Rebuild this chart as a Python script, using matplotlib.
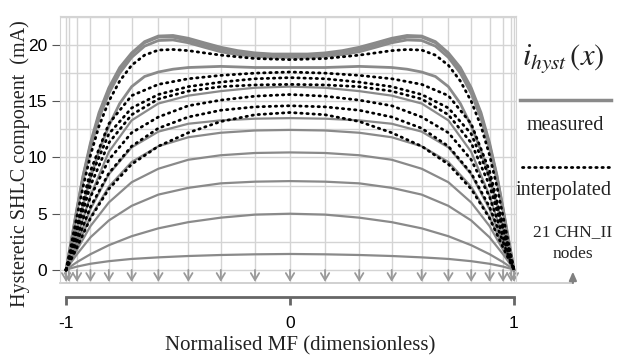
import numpy as np
import matplotlib
matplotlib.use('Agg')
import matplotlib.pyplot as plt

# 21 CHN_II nodes, x = -cos(k*pi/20)
nodes = [-1.0, -0.9877, -0.9511, -0.8910, -0.8090, -0.7071, -0.5878, -0.4540, -0.3090, -0.1564, 0.0,
         0.1564, 0.3090, 0.4540, 0.5878, 0.7071, 0.8090, 0.8910, 0.9511, 0.9877, 1.0]
# finer reading positions for the humped top curves, x = -cos(k*pi/40)
fine = [-1.0, -0.9969, -0.9877, -0.9724, -0.9511, -0.9239, -0.8910, -0.8526, -0.8090, -0.7604,
        -0.7071, -0.6494, -0.5878, -0.5225, -0.4540, -0.3827, -0.3090, -0.2334, -0.1564, -0.0785, 0.0,
        0.0785, 0.1564, 0.2334, 0.3090, 0.3827, 0.4540, 0.5225, 0.5878, 0.6494, 0.7071,
        0.7604, 0.8090, 0.8526, 0.8910, 0.9239, 0.9511, 0.9724, 0.9877, 0.9969, 1.0]

# measured curves read on the fine positions (top group)
measured_top = [
    [0, 0.35, 1.4, 3.1, 5.5, 8.4, 11.3, 14.0, 16.2, 18.0, 19.3, 20.3, 20.8, 20.85, 20.6, 20.2, 19.8, 19.5, 19.3, 19.2, 19.2,
     19.2, 19.3, 19.5, 19.8, 20.2, 20.6, 20.85, 20.8, 20.3, 19.3, 18.0, 16.2, 14.0, 11.3, 8.4, 5.5, 3.1, 1.4, 0.35, 0],
    [0, 0.34, 1.35, 3.0, 5.4, 8.3, 11.1, 13.8, 16.0, 17.8, 19.2, 20.2, 20.7, 20.7, 20.4, 20.0, 19.6, 19.35, 19.15, 19.05, 19.05,
     19.05, 19.15, 19.35, 19.6, 20.0, 20.4, 20.7, 20.7, 20.2, 19.2, 17.8, 16.0, 13.8, 11.1, 8.3, 5.4, 3.0, 1.35, 0.34, 0],
    [0, 0.33, 1.3, 2.9, 5.2, 8.0, 10.8, 13.5, 15.7, 17.5, 18.9, 19.9, 20.4, 20.45, 20.2, 19.8, 19.4, 19.15, 19.0, 18.9, 18.9,
     18.9, 19.0, 19.15, 19.4, 19.8, 20.2, 20.45, 20.4, 19.9, 18.9, 17.5, 15.7, 13.5, 10.8, 8.0, 5.2, 2.9, 1.3, 0.33, 0],
    [0, 0.22, 0.9, 2.1, 3.7, 5.8, 8.2, 10.6, 12.8, 14.8, 16.3, 17.2, 17.6, 17.85, 18.0, 18.05, 18.1, 18.05, 18.0, 18.0, 18.0,
     18.0, 18.0, 18.05, 18.1, 18.05, 18.0, 17.85, 17.6, 17.2, 16.3, 14.8, 12.8, 10.6, 8.2, 5.8, 3.7, 2.1, 0.9, 0.22, 0],
]

# measured curves read at the nodes
measured = [
    [0, 0.7, 2.9, 6.6, 10.5, 13.3, 14.8, 15.5, 15.9, 16.2, 16.3, 16.2, 15.9, 15.5, 14.8, 13.3, 10.5, 6.6, 2.9, 0.7, 0],
    [0, 0.6, 2.4, 5.4, 8.5, 10.9, 12.3, 13.0, 13.3, 13.45, 13.5, 13.45, 13.3, 13.0, 12.3, 10.9, 8.5, 5.4, 2.4, 0.6, 0],
    [0, 0.55, 2.1, 4.7, 7.4, 9.6, 11.0, 11.8, 12.2, 12.4, 12.45, 12.4, 12.2, 11.8, 11.0, 9.6, 7.4, 4.7, 2.1, 0.55, 0],
    [0, 0.5, 1.8, 3.9, 6.0, 7.8, 9.0, 9.8, 10.2, 10.4, 10.45, 10.4, 10.2, 9.8, 9.0, 7.8, 6.0, 3.9, 1.8, 0.5, 0],
    [0, 0.4, 1.4, 2.9, 4.4, 5.7, 6.7, 7.3, 7.7, 7.85, 7.9, 7.85, 7.7, 7.3, 6.7, 5.7, 4.4, 2.9, 1.4, 0.4, 0],
    [0, 0.2, 0.7, 1.4, 2.2, 3.0, 3.7, 4.25, 4.65, 4.92, 5.0, 4.92, 4.65, 4.25, 3.7, 3.0, 2.2, 1.4, 0.7, 0.2, 0],
    [0, 0.1, 0.3, 0.55, 0.78, 0.98, 1.12, 1.24, 1.33, 1.39, 1.42, 1.39, 1.33, 1.24, 1.12, 0.98, 0.78, 0.55, 0.3, 0.1, 0],
]

# interpolated top curve on the fine positions
interpolated_top = [
    [0, 0.3, 1.2, 2.7, 4.8, 7.4, 10.2, 12.8, 15.0, 16.8, 18.2, 19.1, 19.55, 19.6, 19.5, 19.3, 19.1, 18.95, 18.8, 18.75, 18.7,
     18.75, 18.8, 18.95, 19.1, 19.3, 19.5, 19.6, 19.55, 19.1, 18.2, 16.8, 15.0, 12.8, 10.2, 7.4, 4.8, 2.7, 1.2, 0.3, 0],
]

# interpolated curves at the nodes
interpolated = [
    [0, 1.0, 4.0, 8.8, 13.0, 15.5, 16.5, 17.0, 17.3, 17.5, 17.6, 17.5, 17.3, 17.0, 16.5, 15.5, 13.0, 8.8, 4.0, 1.0, 0],
    [0, 0.9, 3.7, 8.2, 12.1, 14.4, 15.6, 16.3, 16.7, 17.0, 17.1, 17.0, 16.7, 16.3, 15.6, 14.4, 12.1, 8.2, 3.7, 0.9, 0],
    [0, 0.85, 3.4, 7.5, 11.3, 13.8, 15.2, 15.9, 16.3, 16.45, 16.5, 16.45, 16.3, 15.9, 15.2, 13.8, 11.3, 7.5, 3.4, 0.85, 0],
    [0, 0.7, 2.9, 6.5, 9.8, 12.2, 13.6, 14.6, 15.1, 15.45, 15.6, 15.45, 15.1, 14.6, 13.6, 12.2, 9.8, 6.5, 2.9, 0.7, 0],
    [0, 0.6, 2.5, 5.6, 8.6, 11.0, 12.6, 13.6, 14.2, 14.5, 14.6, 14.5, 14.2, 13.6, 12.6, 11.0, 8.6, 5.6, 2.5, 0.6, 0],
    [0, 0.5, 2.0, 4.6, 7.2, 9.4, 11.0, 12.2, 13.2, 13.8, 14.0, 13.8, 13.2, 12.2, 11.0, 9.4, 7.2, 4.6, 2.0, 0.5, 0],
]

yticks = [0, 5, 10, 15, 20]
xticks = [-1, 0, 1]

grey = '#8a8a8a'
gridc = '#d4d4d4'
serif = 'Liberation Serif'
sans = 'Liberation Sans'
dots = (0, (0.5, 1.7))
plt.rcParams['mathtext.fontset'] = 'stix'

fig = plt.figure(figsize=(6.22, 3.58), dpi=100)
ax = fig.add_axes([60/622, 1-283/358, 456/622, 267/358])
ax.set_xlim(-1.027, 1.009)
ax.set_ylim(-1.16, 22.58)

# grid
for xn in nodes:
    ax.axvline(xn, color=gridc, lw=1, zorder=0)
for yg in np.arange(0, 22.6, 2.5):
    ax.axhline(yg, color=gridc, lw=1, zorder=0)
for s in ['top', 'right', 'left']:
    ax.spines[s].set_color(gridc)
ax.spines['bottom'].set_visible(False)

for m in measured_top:
    ax.plot(fine, m, color=grey, lw=2.0, zorder=2)
for m in measured:
    ax.plot(nodes, m, color=grey, lw=1.6, zorder=2)
for d in interpolated_top:
    ax.plot(fine, d, color='black', lw=2.0, linestyle=dots, dash_capstyle='round', zorder=3)
for d in interpolated:
    ax.plot(nodes, d, color='black', lw=2.0, linestyle=dots, dash_capstyle='round', zorder=3)

# node arrows
for xn in nodes:
    ax.annotate('', xy=(xn, -1.05), xytext=(xn, 0), zorder=1,
                arrowprops=dict(arrowstyle='->,head_width=0.3,head_length=0.5',
                                color='#999999', lw=1.3, shrinkA=0, shrinkB=0))
ax.plot([-1.027, 1.263], [-1.16, -1.16], color='#c8c8c8', lw=1.2, clip_on=False)
ax.annotate('', xy=(1.263, -0.15), xytext=(1.263, -1.16), annotation_clip=False,
            arrowprops=dict(arrowstyle='-|>,head_width=0.22,head_length=0.5',
                            color='#808080', lw=1.5, shrinkA=0, shrinkB=0))

ax.set_xticks([])
ax.set_yticks(yticks)
ax.tick_params(axis='y', length=6, color='#555555', labelsize=12.5, pad=3)
for lab in ax.get_yticklabels():
    lab.set_fontfamily(sans)
fig.text(20/622, 1-164/358, 'Hysteretic SHLC component  (mA)', fontfamily=serif, fontsize=14.5,
         rotation=90, ha='center', va='center', color='#222222')

# separate x axis
ax2 = fig.add_axes([60/622, 1-297/358, 456/622, 0.001])
ax2.set_xlim(-1.027, 1.009)
ax2.patch.set_visible(False)
for s in ['top', 'right', 'left']:
    ax2.spines[s].set_visible(False)
ax2.spines['bottom'].set_bounds(-1, 1)
ax2.spines['bottom'].set_color('#666666')
ax2.spines['bottom'].set_linewidth(2)
ax2.set_yticks([])
ax2.set_xticks(xticks)
ax2.set_xticklabels(['-1', '0', '1'], fontfamily=sans, fontsize=12.5)
ax2.tick_params(axis='x', length=6, width=2, color='#666666', pad=8)
fig.text(300/622, 1-346/358, 'Normalised MF (dimensionless)', fontfamily=serif, fontsize=15,
         ha='center', va='center', color='#222222')

# legend area
fig.text(563/622, 1-58/358, r'$i_{hyst}\,(x)$', fontsize=22, ha='center', va='center', color='#222222')
fig.add_artist(plt.Line2D([520/622, 611/622], [1-100/358, 1-100/358], color=grey, lw=2.5))
fig.text(565/622, 1-125/358, 'measured', fontfamily=serif, fontsize=14.5, ha='center', va='center', color='#222222')
fig.add_artist(plt.Line2D([522/622, 611/622], [1-167/358, 1-167/358], color='black', lw=2.0,
                          linestyle=dots, dash_capstyle='round'))
fig.text(564/622, 1-190/358, 'interpolated', fontfamily=serif, fontsize=14.5, ha='center', va='center', color='#222222')
fig.text(573/622, 1-232/358, '21 CHN_II', fontfamily=serif, fontsize=12.5, ha='center', va='center', color='#222222')
fig.text(573/622, 1-254/358, 'nodes', fontfamily=serif, fontsize=12.5, ha='center', va='center', color='#222222')

fig.savefig('out.png', dpi=100)
